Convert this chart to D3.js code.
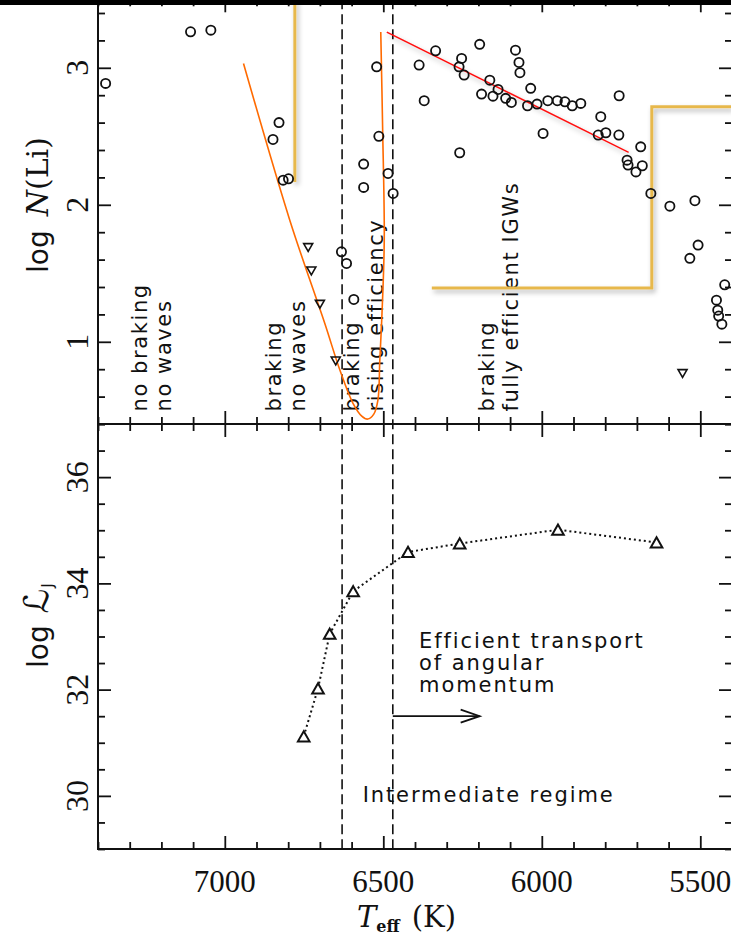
<!DOCTYPE html>
<html>
<head>
<meta charset="utf-8">
<script src="https://cdn.jsdelivr.net/npm/d3@7"></script>
<style>
  body { margin: 0; background: #fff; }
  svg { display: block; }
</style>
</head>
<body>
<svg id="fig" width="731" height="938"></svg>
<script>
// ---- Lithium abundances: detections (circles) ----
const liTeff = [7376, 7108, 7044, 6829, 6848, 6816, 6799, 6632, 6616, 6593,
  6562, 6562, 6521, 6514, 6485, 6469, 6387, 6371, 6335, 6259,
  6253, 6261, 6245, 6196, 6190, 6164, 6154, 6138, 6114, 6096,
  6083, 6072, 6069, 6045, 6035, 6015, 5996, 5981, 5951, 5927,
  5904, 5877, 5822, 5814, 5798, 5756, 5757, 5688, 5731, 5728,
  5703, 5683, 5656, 5596, 5517, 5533, 5507, 5423, 5449, 5445,
  5442, 5432];
const liAbund = [2.886, 3.263, 3.275, 2.60, 2.477, 2.18, 2.19, 1.657, 1.572, 1.309,
  2.297, 2.127, 3.007, 2.50, 2.229, 2.083, 3.02, 2.76, 3.124, 2.38,
  3.068, 3.007, 2.947, 3.171, 2.808, 2.91, 2.793, 2.842, 2.777, 2.747,
  3.129, 3.039, 2.964, 2.723, 2.85, 2.735, 2.521, 2.76, 2.76, 2.752,
  2.723, 2.74, 2.509, 2.643, 2.526, 2.796, 2.509, 2.423, 2.326, 2.29,
  2.24, 2.285, 2.083, 1.99, 2.03, 1.609, 1.706, 1.416, 1.304, 1.231,
  1.188, 1.129];

// ---- Lithium upper limits (downward triangles) ----
const limTeff = [6737, 6727, 6700, 6650, 5556];
const limAbund = [1.689, 1.518, 1.275, 0.861, 0.769];

// ---- Angular momentum luminosity of the waves ----
const ljTeff = [6751, 6706, 6669, 6595, 6422, 6259, 5949, 5638];
const ljLog = [31.12, 32.02, 33.05, 33.85, 34.59, 34.75, 35.01, 34.77];

// ---- Overlaid guide curves ----
const dipTeff = [6941, 6795, 6685, 6637, 6596, 6568, 6549, 6530, 6517, 6511, 6505, 6497, 6502, 6508];
const dipAbund = [3.032, 1.888, 1.137, 0.794, 0.553, 0.458, 0.436, 0.472, 0.574, 0.866, 1.158, 1.742, 2.545, 3.261];
const plateauTeff = [6489, 5726];
const plateauAbund = [3.26, 2.383];
const stepATeff = [6779, 6779];
const stepAAbund = [3.5, 2.166];
const stepBTeff = [6347, 5653, 5653, 5400];
const stepBAbund = [1.393, 1.393, 2.715, 2.715];

// ---- Regime boundaries and axis ticks ----
const regimeBounds = [6630, 6470];
const xMajorTicks = [7000, 6500, 6000, 5500];
const topMajorTicks = [1, 2, 3];
const botMajorTicks = [30, 32, 34, 36];

// ---- Scales ----
const x = d3.scaleLinear().domain([7400, 5400]).range([98, 732]);
const yTop = d3.scaleLinear().domain([0.4, 3.5]).range([424, -0.7]);
const yBot = d3.scaleLinear().domain([29, 37]).range([849, 424]);

const svg = d3.select("#fig");
svg.append("rect").attr("width", 731).attr("height", 938).attr("fill", "#fff");

const defs = svg.append("defs");
const f = defs.append("filter").attr("id", "shade")
  .attr("filterUnits", "userSpaceOnUse")
  .attr("x", 0).attr("y", 0).attr("width", 731).attr("height", 938);
f.append("feDropShadow").attr("dx", 2).attr("dy", 3).attr("stdDeviation", 2.5)
  .attr("flood-color", "#000").attr("flood-opacity", 0.3);

// ---- Ticks (inward on all four sides of each panel) ----
const xMinor = d3.range(5400, 7401, 100).filter(v => !xMajorTicks.includes(v));
const topMinor = d3.range(0.4, 3.5001, 0.2).map(v => +v.toFixed(1)).filter(v => !topMajorTicks.includes(v));
const botMinor = d3.range(29, 37.001, 0.5).filter(v => !botMajorTicks.includes(v));

function tickAxis(gen, scale, values, size, transform) {
  const g = svg.append("g").attr("transform", transform)
    .call(gen(scale).tickValues(values).tickSize(size).tickFormat(""));
  g.select(".domain").remove();
  g.selectAll(".tick line").attr("stroke", "#111").attr("stroke-width", 1.8);
  return g;
}
// horizontal edges: top of top panel, shared middle edge, bottom edge
[[yTop(3.5), d3.axisTop], [424, d3.axisBottom], [424, d3.axisTop], [yBot(29), d3.axisBottom]].forEach(([yy, gen]) => {
  tickAxis(gen, x, xMajorTicks, -13, `translate(0,${yy})`);
  tickAxis(gen, x, xMinor, -7, `translate(0,${yy})`);
});
// vertical edges
tickAxis(d3.axisLeft, yTop, topMajorTicks, -13, `translate(98,0)`);
tickAxis(d3.axisLeft, yTop, topMinor, -7, `translate(98,0)`);
tickAxis(d3.axisRight, yTop, topMajorTicks, -13, `translate(732,0)`);
tickAxis(d3.axisRight, yTop, topMinor, -7, `translate(732,0)`);
tickAxis(d3.axisLeft, yBot, botMajorTicks, -13, `translate(98,0)`);
tickAxis(d3.axisLeft, yBot, botMinor, -7, `translate(98,0)`);
tickAxis(d3.axisRight, yBot, botMajorTicks, -13, `translate(732,0)`);
tickAxis(d3.axisRight, yBot, botMinor, -7, `translate(732,0)`);

// ---- Panel frames ----
svg.append("rect").attr("x", 98).attr("y", yTop(3.5)).attr("width", 732 - 98).attr("height", 424 - yTop(3.5))
  .attr("fill", "none").attr("stroke", "#111").attr("stroke-width", 2);
svg.append("rect").attr("x", 98).attr("y", 424).attr("width", 732 - 98).attr("height", yBot(29) - 424)
  .attr("fill", "none").attr("stroke", "#111").attr("stroke-width", 2);

// ---- Tick labels ----
const numFont = "'Liberation Serif', 'Times New Roman', serif";
svg.append("g").selectAll("text").data(xMajorTicks).join("text")
  .attr("x", d => x(d)).attr("y", 892)
  .attr("text-anchor", "middle").attr("font-family", numFont).attr("font-size", 31).attr("fill", "#111")
  .text(d => d);
function yLabels(values, scale) {
  svg.append("g").selectAll("text").data(values).join("text")
    .attr("transform", d => `translate(88,${scale(d)}) rotate(-90)`)
    .attr("text-anchor", "middle").attr("font-family", numFont).attr("font-size", 32).attr("fill", "#111")
    .text(d => d);
}
yLabels(topMajorTicks, yTop);
yLabels(botMajorTicks, yBot);

// ---- Axis titles ----
const tTop = svg.append("text").attr("transform", "translate(48,273) rotate(-90)").attr("fill", "#111");
tTop.append("tspan").attr("font-family", "'DejaVu Sans', sans-serif").attr("font-size", 28).text("log");
tTop.append("tspan").attr("dx", 14).attr("font-family", "'DejaVu Serif', serif").attr("font-style", "italic").attr("font-size", 30).text("N");
tTop.append("tspan").attr("font-family", "'DejaVu Serif', serif").attr("font-size", 30).text("(Li)");

const tBot = svg.append("text").attr("transform", "translate(48,668) rotate(-90)").attr("fill", "#111");
tBot.append("tspan").attr("font-family", "'DejaVu Sans', sans-serif").attr("font-size", 28).text("log");
tBot.append("tspan").attr("dx", 12).attr("font-family", "'DejaVu Serif', 'DejaVu Sans', serif").attr("font-style", "italic").attr("font-size", 34).text("\u2112");
tBot.append("tspan").attr("dy", 5).attr("dx", 1).attr("font-family", "'DejaVu Sans', sans-serif").attr("font-size", 15).text("J");

const tX = svg.append("text").attr("x", 357).attr("y", 927).attr("fill", "#111");
tX.append("tspan").attr("font-family", "'DejaVu Serif', serif").attr("font-style", "italic").attr("font-size", 29).text("T");
tX.append("tspan").attr("dy", 5).attr("font-family", "'DejaVu Serif', serif").attr("font-weight", "bold").attr("font-size", 16).text("eff");
tX.append("tspan").attr("dy", -5).attr("dx", 12).attr("font-family", "'DejaVu Serif', serif").attr("font-size", 29).text("(K)");

// ---- Regime boundaries (dashed, both panels) ----
svg.append("g").selectAll("line").data(regimeBounds).join("line")
  .attr("x1", d => x(d)).attr("x2", d => x(d))
  .attr("y1", yTop(3.5)).attr("y2", yBot(29))
  .attr("stroke", "#111").attr("stroke-width", 1.6).attr("stroke-dasharray", "10,5");

// ---- Regime labels in the upper panel (rotated) ----
const labelFont = "'DejaVu Sans', sans-serif";
const regimeLabels = [
  { T: 7245, lines: ["no braking", "no waves"] },
  { T: 6824, lines: ["braking", "no waves"] },
  { T: 6577, lines: ["braking", "rising efficiency"] },
  { T: 6151, lines: ["braking", "fully efficient IGWs"] }
];
regimeLabels.forEach(lab => {
  const t = svg.append("text")
    .attr("transform", `translate(${x(lab.T)},${yTop(0.491)}) rotate(-90)`)
    .attr("font-family", labelFont).attr("font-size", 21).attr("letter-spacing", 1.6).attr("fill", "#111");
  lab.lines.forEach((s, i) => t.append("tspan").attr("x", 0).attr("dy", i ? 24 : 0).text(s));
});

// ---- Upper panel: guide curves ----
const lineTop = d3.line().x(d => x(d[0])).y(d => yTop(d[1]));
svg.append("path").datum(d3.zip(stepATeff, stepAAbund)).attr("d", lineTop)
  .attr("fill", "none").attr("stroke", "#e7b84c").attr("stroke-width", 3).attr("filter", "url(#shade)");
svg.append("path").datum(d3.zip(stepBTeff, stepBAbund)).attr("d", lineTop)
  .attr("fill", "none").attr("stroke", "#e7b84c").attr("stroke-width", 3).attr("filter", "url(#shade)");
svg.append("path").datum(d3.zip(plateauTeff, plateauAbund)).attr("d", lineTop)
  .attr("fill", "none").attr("stroke", "#ff1010").attr("stroke-width", 1.5).attr("filter", "url(#shade)");
svg.append("path").datum(d3.zip(dipTeff, dipAbund))
  .attr("d", d3.line().x(d => x(d[0])).y(d => yTop(d[1])).curve(d3.curveCatmullRom.alpha(0.5)))
  .attr("fill", "none").attr("stroke", "#ff6a00").attr("stroke-width", 1.6);

// ---- Upper panel: data ----
svg.append("g").selectAll("circle").data(d3.zip(liTeff, liAbund)).join("circle")
  .attr("cx", d => x(d[0])).attr("cy", d => yTop(d[1])).attr("r", 4.6)
  .attr("fill", "none").attr("stroke", "#111").attr("stroke-width", 1.8);
svg.append("g").selectAll("path").data(d3.zip(limTeff, limAbund)).join("path")
  .attr("transform", d => `translate(${x(d[0])},${yTop(d[1])})`)
  .attr("d", "M-4.5,-3.8L4.5,-3.8L0,4Z")
  .attr("fill", "none").attr("stroke", "#111").attr("stroke-width", 1.6);

// ---- Lower panel: angular momentum luminosity ----
const lineBot = d3.line().x(d => x(d[0])).y(d => yBot(d[1]));
svg.append("path").datum(d3.zip(ljTeff, ljLog)).attr("d", lineBot)
  .attr("fill", "none").attr("stroke", "#111").attr("stroke-width", 2).attr("stroke-dasharray", "2,3");
svg.append("g").selectAll("path").data(d3.zip(ljTeff, ljLog)).join("path")
  .attr("transform", d => `translate(${x(d[0])},${yBot(d[1])})`)
  .attr("d", "M0,-5.2L5.8,5L-5.8,5Z")
  .attr("fill", "#fff").attr("stroke", "#111").attr("stroke-width", 2);

// ---- Lower panel annotations ----
const noteFont = { family: labelFont, size: 21, spacing: 1.9 };
const transport = svg.append("text")
  .attr("x", x(6387)).attr("y", yBot(32.78))
  .attr("font-family", noteFont.family).attr("font-size", noteFont.size).attr("letter-spacing", noteFont.spacing).attr("fill", "#111");
["Efficient transport", "of angular", "momentum"].forEach((s, i) =>
  transport.append("tspan").attr("x", x(6387)).attr("dy", i ? 21.7 : 0).text(s));

const arrowFrom = [6470, 31.5], arrowTo = [6196, 31.5];
const ax0 = x(arrowFrom[0]), ax1 = x(arrowTo[0]), ay = yBot(arrowTo[1]);
svg.append("line").attr("x1", ax0).attr("x2", ax1).attr("y1", ay).attr("y2", ay)
  .attr("stroke", "#111").attr("stroke-width", 1.8);
svg.append("path").attr("d", `M${ax1 - 19},${ay - 6.5}L${ax1},${ay}L${ax1 - 19},${ay + 6.5}`)
  .attr("fill", "none").attr("stroke", "#111").attr("stroke-width", 1.8);

svg.append("text").attr("x", x(6565)).attr("y", yBot(29.89))
  .attr("font-family", noteFont.family).attr("font-size", noteFont.size).attr("letter-spacing", noteFont.spacing).attr("fill", "#111")
  .text("Intermediate regime");

// dark band along the top edge
svg.append("rect").attr("x", 0).attr("y", 0).attr("width", 731).attr("height", 5).attr("fill", "#000");
</script>
</body>
</html>
